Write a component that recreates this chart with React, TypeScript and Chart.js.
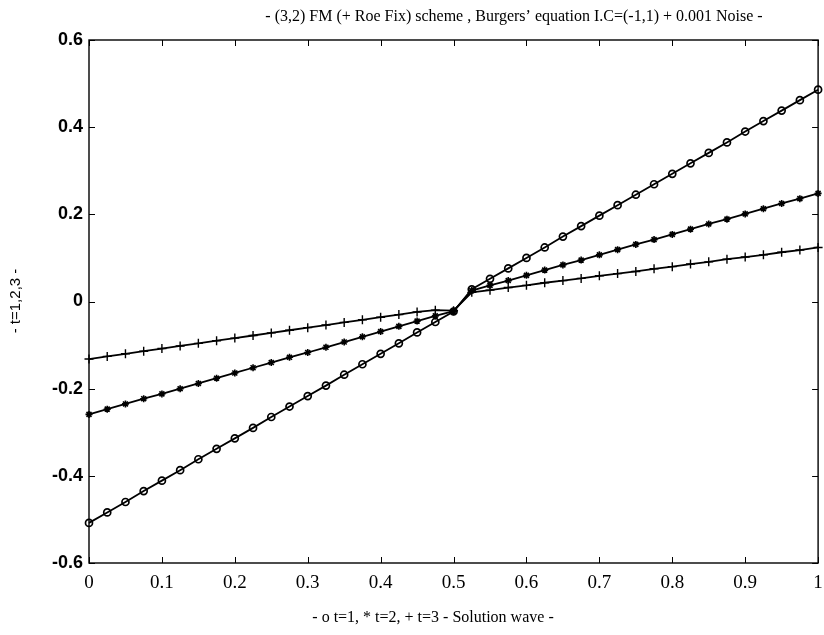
import React, { useEffect, useRef } from "react";
import { Chart, registerables } from "chart.js";

Chart.register(...registerables);

const xValues = [
  0, 0.025, 0.05, 0.075, 0.1, 0.125, 0.15, 0.175, 0.2, 0.225, 0.25, 0.275, 0.3, 0.325, 0.35, 0.375, 0.4, 0.425, 0.45, 0.475, 0.5,
  0.525, 0.55, 0.575, 0.6, 0.625, 0.65, 0.675, 0.7, 0.725, 0.75, 0.775, 0.8, 0.825, 0.85, 0.875, 0.9, 0.925, 0.95, 0.975, 1,
];

const t1Values = [
  -0.508, -0.484, -0.46, -0.435, -0.411, -0.387, -0.362, -0.338, -0.314, -0.29, -0.265, -0.241, -0.217, -0.193, -0.168, -0.144, -0.12, -0.096, -0.071, -0.047, -0.023,
  0.028, 0.052, 0.076, 0.1, 0.124, 0.149, 0.173, 0.197, 0.221, 0.245, 0.269, 0.293, 0.317, 0.341, 0.365, 0.39, 0.414, 0.438, 0.462, 0.486,
];

const t2Values = [
  -0.259, -0.247, -0.235, -0.223, -0.212, -0.2, -0.188, -0.176, -0.164, -0.152, -0.14, -0.128, -0.117, -0.105, -0.093, -0.081, -0.069, -0.057, -0.045, -0.033, -0.022,
  0.025, 0.037, 0.048, 0.06, 0.072, 0.084, 0.095, 0.107, 0.119, 0.131, 0.142, 0.154, 0.166, 0.178, 0.189, 0.201, 0.213, 0.225, 0.236, 0.248,
];

const t3Values = [
  -0.132, -0.126, -0.12, -0.114, -0.108, -0.102, -0.096, -0.09, -0.084, -0.078, -0.072, -0.066, -0.06, -0.054, -0.048, -0.042, -0.036, -0.03, -0.024, -0.02, -0.021,
  0.021, 0.026, 0.032, 0.037, 0.043, 0.048, 0.053, 0.059, 0.064, 0.069, 0.075, 0.08, 0.086, 0.091, 0.097, 0.102, 0.107, 0.113, 0.118, 0.124,
];

const xTicks = [0, 0.1, 0.2, 0.3, 0.4, 0.5, 0.6, 0.7, 0.8, 0.9, 1];
const yTicks = [-0.6, -0.4, -0.2, 0, 0.2, 0.4, 0.6];

const titleText = "- (3,2) FM (+ Roe Fix) scheme , Burgers\u2019 equation I.C=(-1,1) + 0.001 Noise -";
const xLabelText = "- o t=1, * t=2, + t=3 - Solution wave -";
const yLabelText = "- t=1,2,3 -";

const framePlugin = {
  id: "frame",
  afterDraw(chart: any) {
    const { ctx, chartArea, scales } = chart;
    const { left, right, top, bottom } = chartArea;
    ctx.save();
    ctx.strokeStyle = "#000";
    ctx.lineWidth = 1.4;
    ctx.strokeRect(left, top, right - left, bottom - top);
    const len = 6;
    ctx.beginPath();
    xTicks.forEach((v) => {
      const px = Math.round(scales.x.getPixelForValue(v)) + 0.5;
      ctx.moveTo(px, bottom);
      ctx.lineTo(px, bottom - len);
      ctx.moveTo(px, top);
      ctx.lineTo(px, top + len);
    });
    yTicks.forEach((v) => {
      const py = Math.round(scales.y.getPixelForValue(v)) + 0.5;
      ctx.moveTo(left, py);
      ctx.lineTo(left + len, py);
      ctx.moveTo(right, py);
      ctx.lineTo(right - len, py);
    });
    ctx.lineWidth = 1;
    ctx.stroke();

    ctx.fillStyle = "#000";
    ctx.font = "16px 'Liberation Serif', serif";
    ctx.textAlign = "center";
    ctx.textBaseline = "alphabetic";
    ctx.fillText(titleText, 514, 21);
    ctx.fillText(xLabelText, 433, 622);

    ctx.translate(20, 301);
    ctx.rotate(-Math.PI / 2);
    ctx.font = "15px 'Liberation Sans', sans-serif";
    ctx.fillText(yLabelText, 0, 0);
    ctx.restore();
  },
};

export default function App() {
  const canvasRef = useRef<HTMLCanvasElement | null>(null);

  useEffect(() => {
    const canvas = canvasRef.current;
    if (!canvas) return;
    const mk = (label: string, data: number[], style: string, radius: number, bw: number) => ({
      label,
      data: xValues.map((x, i) => ({ x, y: data[i] })),
      borderColor: "#000",
      borderWidth: 1.8,
      pointStyle: style,
      pointRadius: radius,
      pointBorderWidth: bw,
      pointBorderColor: "#000",
      pointBackgroundColor: "rgba(0,0,0,0)",
      backgroundColor: "rgba(0,0,0,0)",
      clip: false,
      tension: 0,
    });
    const chart = new Chart(canvas, {
      type: "line",
      data: {
        datasets: [
          mk("t=1", t1Values, "circle", 3.5, 1.7),
          mk("t=2", t2Values, "star", 3.5, 1.6),
          mk("t=3", t3Values, "cross", 4.5, 1.4),
        ] as any,
      },
      options: {
        responsive: false,
        animation: false,
        devicePixelRatio: 1,
        layout: { padding: { top: 40, right: 4, left: 0, bottom: 0 } },
        plugins: { legend: { display: false }, tooltip: { enabled: false }, title: { display: false } },
        scales: {
          x: {
            type: "linear",
            min: 0,
            max: 1,
            afterFit(scale: any) {
              scale.height = 72;
              scale.paddingLeft = 0;
              scale.paddingRight = 0;
            },
            afterBuildTicks(scale: any) {
              scale.ticks = xTicks.map((v) => ({ value: v }));
            },
            grid: { display: false, drawTicks: false },
            border: { display: false },
            ticks: {
              padding: 9,
              color: "#000",
              font: { family: "'Liberation Serif', serif", size: 19 },
              callback: (v: any) => String(Number(Number(v).toFixed(1))),
              maxRotation: 0,
              autoSkip: false,
            },
          },
          y: {
            type: "linear",
            min: -0.6,
            max: 0.6,
            afterFit(scale: any) {
              scale.width = 89;
              scale.paddingTop = 0;
              scale.paddingBottom = 0;
            },
            afterBuildTicks(scale: any) {
              scale.ticks = yTicks.map((v) => ({ value: v }));
            },
            grid: { display: false, drawTicks: false },
            border: { display: false },
            ticks: {
              padding: 6,
              color: "#000",
              font: { family: "'Liberation Sans', sans-serif", size: 18, weight: "bold" },
              callback: (v: any) => String(Number(Number(v).toFixed(1))),
              autoSkip: false,
            },
          },
        },
      } as any,
      plugins: [framePlugin],
    });
    return () => chart.destroy();
  }, []);

  return (
    <div style={{ position: "fixed", left: 0, top: 0, width: 824, height: 635, background: "#fff" }}>
      <canvas ref={canvasRef} width={824} height={635} style={{ width: 824, height: 635 }} />
    </div>
  );
}
